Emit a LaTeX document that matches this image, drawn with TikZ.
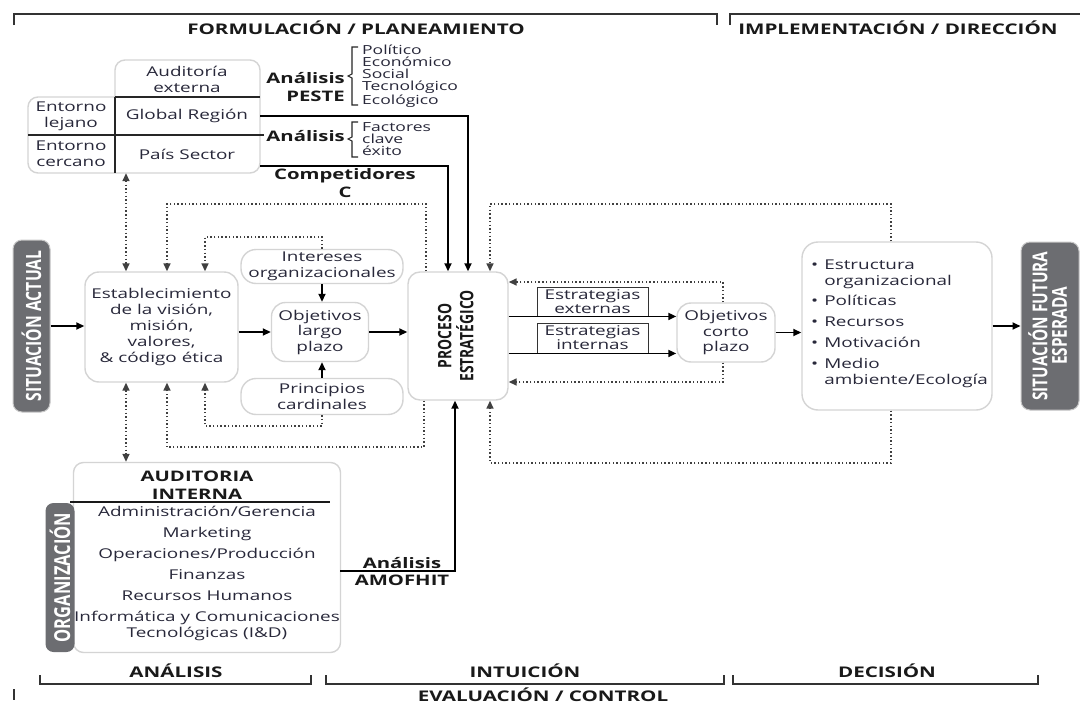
\documentclass[tikz,border=0pt]{standalone}
\usepackage{fontspec}
\usepackage{graphicx}
\setmainfont{Open Sans}[FakeStretch=1.4]
\newfontfamily\condfont{Open Sans}[FakeStretch=0.75]
\usetikzlibrary{arrows.meta,fit,calc}

\definecolor{txt}{RGB}{40,40,58}
\definecolor{panel}{RGB}{108,109,113}

\tikzset{
  every node/.style={font=\fontsize{13.5}{16}\selectfont, text=txt, inner sep=0pt, align=center},
  box/.style={draw=black!17, line width=1.4pt, fill=white, rounded corners=10pt},
  darkbox/.style={fill=panel, draw=black!22, line width=1pt, rounded corners=9pt, text=white},
  hdr/.style={font=\fontsize{14.7}{16}\selectfont\bfseries, text=black!90},
  bold/.style={font=\fontsize{14.5}{18}\selectfont\bfseries, text=black!90},
  small/.style={font=\fontsize{12.5}{12.3}\selectfont, align=left},
  bracket/.style={line width=1.8pt, black!80},
  solidarrow/.style={line width=1.7pt, black, -{Triangle[length=8pt,width=7pt]}},
  dotline/.style={line width=1.5pt, black!75, dash pattern=on 1.4pt off 2.3pt},
  dotarrow/.style={dotline, -{Triangle[length=8pt,width=7pt]}},
  dotboth/.style={dotline, {Triangle[length=8pt,width=7pt]}-{Triangle[length=8pt,width=7pt]}},
}

\begin{document}
\begin{tikzpicture}[x=1pt,y=-1pt]
\useasboundingbox[fill=white] (0,0) rectangle (1080,704);

% ---- phase brackets, top
\draw[bracket] (14,25) -- (14,14) -- (717,14) -- (717,25);
\draw[bracket] (730,25) -- (730,14) -- (1080,14);
\node[hdr] (formulacion) at (356,28) {FORMULACIÓN / PLANEAMIENTO};
\node[hdr] (implementacion) at (898,28) {IMPLEMENTACIÓN / DIRECCIÓN};

% ---- external audit block
\draw[box] (115,97) -- (115,60) -- (260,60) -- (260,173) -- (28,173) -- (28,97) -- (115,97);
\node[fit={(28,60) (260,173)}, inner sep=0pt] (ext) {};
\draw[line width=1.2pt, black!85] (115,97) -- (260,97);
\draw[line width=1.2pt, black!85] (115,97) -- (115,173);
\draw[line width=1.8pt, black!85] (28,135) -- (264,135);
\node (auditext) at (187,79) {Auditoría\\externa};
\node (global) at (187,116) {Global Región};
\node (pais) at (187,154) {País Sector};
\node (lejano) at (71,116) {Entorno\\lejano};
\node (cercano) at (71,154) {Entorno\\cercano};
\coordinate (paisout) at (260,166);

% PESTE analysis
\node[bold, align=right, anchor=east] (peste) at (345,87) {Análisis\\PESTE};
\draw[line width=1.1pt, black!85] (358,47) -- (352,47) -- (352,74) -- (348,76) -- (352,78) -- (352,105) -- (358,105);
\node[small, anchor=west] (pestelist) at (362,76) {Político\\Económico\\Social\\Tecnológico\\Ecológico};

% key success factors
\node[bold, anchor=east] (factores) at (345,136) {Análisis};
\draw[line width=1.1pt, black!85] (358,122) -- (352,122) -- (352,137) -- (348,139) -- (352,141) -- (352,157) -- (358,157);
\node[small, anchor=west] (factlist) at (362,139) {Factores\\clave\\éxito};
\node[bold] (competidores) at (345,183) {Competidores\\C};

% ---- central row
\node[darkbox, minimum width=37, minimum height=172] (sa) at (31.5,326)
  {\rotatebox{90}{\condfont\bfseries\fontsize{21}{22}\selectfont SITUACIÓN ACTUAL}};
\node[box, minimum width=153, minimum height=110, rounded corners=14pt] (est) at (161.5,327)
  {Establecimiento\\de la visión,\\misión,\\valores,\\\& código ética};
\node[box, minimum width=162, minimum height=34, rounded corners=15pt] (inter) at (322,266.5)
  {Intereses\\organizacionales};
\node[box, minimum width=97, minimum height=59, rounded corners=14pt, font=\fontsize{13.5}{15.5}\selectfont] (olp) at (320,332)
  {Objetivos\\largo\\plazo};
\node[box, minimum width=162, minimum height=36, rounded corners=15pt] (princ) at (322,396.5)
  {Principios\\cardinales};
\node[box, minimum width=100, minimum height=128, rounded corners=12pt] (proc) at (458,336)
  {\rotatebox{90}{\begin{tabular}{@{}c@{}}\condfont\bfseries\fontsize{18.5}{26}\selectfont\color{black!90}PROCESO\\[0pt]\condfont\bfseries\fontsize{18.5}{26}\selectfont\color{black!90}ESTRATÉGICO\end{tabular}}};

\node[draw=black!80, line width=0.9pt, minimum width=111, minimum height=29, font=\fontsize{13.5}{14}\selectfont] (estext) at (592.5,301.5) {Estrategias\\externas};
\node[draw=black!80, line width=0.9pt, minimum width=111, minimum height=30, font=\fontsize{13.5}{14}\selectfont] (estint) at (592.5,338) {Estrategias\\internas};

\node[box, minimum width=98, minimum height=59, rounded corners=14pt, font=\fontsize{13.5}{15.5}\selectfont] (obc) at (726,332.5)
  {Objetivos\\corto\\plazo};

\node[box, minimum width=190, minimum height=168, rounded corners=16pt] (impl) at (897,326) {};
\node[anchor=north west, align=left] (impllist) at (811,258) {%
  \begin{tabular}{@{}l@{\hspace{6pt}}l@{}}
  \textbullet & Estructura\\
              & organizacional\\[4pt]
  \textbullet & Políticas\\[5pt]
  \textbullet & Recursos\\[5pt]
  \textbullet & Motivación\\[5pt]
  \textbullet & Medio\\
              & ambiente/Ecología
  \end{tabular}};

\node[darkbox, minimum width=58, minimum height=168] (sf) at (1050,326)
  {\rotatebox{90}{\begin{tabular}{@{}c@{}}\condfont\bfseries\fontsize{20.5}{22}\selectfont SITUACIÓN FUTURA\\\condfont\bfseries\fontsize{20.5}{22}\selectfont ESPERADA\end{tabular}}};

% ---- internal audit block
\node[box, minimum width=267, minimum height=190, rounded corners=10pt] (interna) at (207,557.5) {};
\node[darkbox, minimum width=29, minimum height=149, rounded corners=8pt, draw=none] (org) at (60,577.5)
  {\rotatebox{90}{\condfont\bfseries\fontsize{22}{22}\selectfont ORGANIZACIÓN}};
\node[bold, font=\fontsize{14.5}{18}\selectfont\bfseries] (auditint) at (197,485) {AUDITORIA\\INTERNA};
\draw[line width=1.6pt, black!90] (70,502) -- (330,502);
\node[font=\fontsize{13.5}{21}\selectfont] (intlist) at (207,573)
  {Administración/Gerencia\\Marketing\\Operaciones/Producción\\Finanzas\\Recursos Humanos\\Informática y Comunicaciones\\[-5pt]Tecnológicas (I\&D)};
\coordinate (amofout) at (340,571);
\node[bold, font=\fontsize{14.5}{17}\selectfont\bfseries] (amofhit) at (402,572) {Análisis\\AMOFHIT};

% ---- solid connectors
\draw[solidarrow] (global.east -| ext.east) -| (468,0 |- proc.north);
\draw[solidarrow] (paisout) -| (448,0 |- proc.north);
\draw[solidarrow] (sa.east) -- (sa.east -| est.west);
\draw[solidarrow] (est.east |- olp.west) -- (olp.west);
\draw[solidarrow] (olp.east) -- (olp.east -| proc.west);
\draw[solidarrow] (inter.south) -- (inter.south |- olp.north);
\draw[solidarrow] (princ.north) -- (princ.north |- olp.south);
\draw[solidarrow] (proc.east |- estext.south) -- (obc.west |- estext.south);
\draw[solidarrow] (proc.east |- estint.south) -- (obc.west |- estint.south);
\draw[solidarrow] (obc.east) -- (obc.east -| impl.west);
\draw[solidarrow] (impl.east |- sf.west) -- (sf.west);
\draw[solidarrow] (amofout) -| (455,0 |- proc.south);

% ---- dotted feedback connectors
\draw[dotboth] (126,0 |- ext.south) -- (126,0 |- est.north);
\draw[dotarrow] (426,0 |- proc.north) |- (167,204) -- (167,0 |- est.north);
\draw[dotarrow] (inter.north) |- (205,237) -- (205,0 |- est.north);
\draw[dotboth] (126,0 |- est.south) -- (126,0 |- interna.north);
\draw[dotarrow] (424,0 |- proc.south) |- (167,447) -- (167,0 |- est.south);
\draw[dotarrow] (princ.south) |- (205,426) -- (205,0 |- est.south);
\draw[dotarrow] (891,0 |- impl.north) |- (490,204) -- (490,0 |- proc.north);
\draw[dotarrow] (891,0 |- impl.south) |- (490,463) -- (490,0 |- proc.south);
\draw[dotarrow] (723,0 |- obc.north) |- (proc.east |- 0,282);
\draw[dotarrow] (723,0 |- obc.south) |- (proc.east |- 0,382);

% ---- phase brackets, bottom
\draw[bracket] (40,675) -- (40,684) -- (311,684) -- (311,675);
\draw[bracket] (326,675) -- (326,684) -- (724,684) -- (724,675);
\draw[bracket] (733,675) -- (733,684) -- (1038,684) -- (1038,675);
\draw[bracket] (14,689) -- (14,700);
\node[hdr] (analisis) at (176,671) {ANÁLISIS};
\node[hdr] (intuicion) at (525,671) {INTUICIÓN};
\node[hdr] (decision) at (887,671) {DECISIÓN};
\node[hdr] (evaluacion) at (543,695) {EVALUACIÓN / CONTROL};
\end{tikzpicture}
\end{document}
